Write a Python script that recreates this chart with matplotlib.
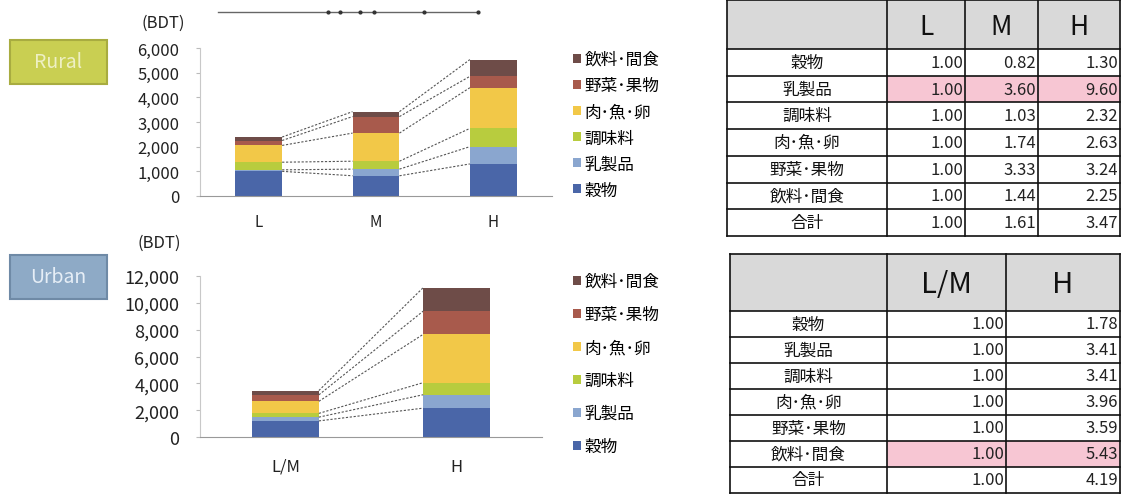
import matplotlib
matplotlib.use('Agg')
import matplotlib.pyplot as plt
from matplotlib.patches import Rectangle
from matplotlib.ticker import FuncFormatter
import numpy as np

plt.rcParams['font.family'] = ['Noto Sans CJK JP', 'DejaVu Sans']

# data
categories = ['穀物', '乳製品', '調味料', '肉･魚･卵', '野菜･果物', '飲料･間食']
colors = ['#4a66a8', '#8aa6cf', '#b8cc3e', '#f2c848', '#a85a4c', '#6e4c48']

rural_groups = ['L', 'M', 'H']
rural_values = {
    '穀物':     [1000, 820, 1300],
    '乳製品':   [60, 270, 700],
    '調味料':   [310, 320, 740],
    '肉･魚･卵': [680, 1140, 1650],
    '野菜･果物': [200, 670, 460],
    '飲料･間食': [140, 200, 680],
}

urban_groups = ['L/M', 'H']
urban_values = {
    '穀物':     [1200, 2150],
    '乳製品':   [280, 1000],
    '調味料':   [280, 900],
    '肉･魚･卵': [900, 3600],
    '野菜･果物': [480, 1730],
    '飲料･間食': [320, 1750],
}

table_rows = ['穀物', '乳製品', '調味料', '肉･魚･卵', '野菜･果物', '飲料･間食', '合計']
rural_ratio_L = [1.00, 1.00, 1.00, 1.00, 1.00, 1.00, 1.00]
rural_ratio_M = [0.82, 3.60, 1.03, 1.74, 3.33, 1.44, 1.61]
rural_ratio_H = [1.30, 9.60, 2.32, 2.63, 3.24, 2.25, 3.47]
urban_ratio_LM = [1.00, 1.00, 1.00, 1.00, 1.00, 1.00, 1.00]
urban_ratio_H = [1.78, 3.41, 3.41, 3.96, 3.59, 5.43, 4.19]

W, H = 1123, 502
fig = plt.figure(figsize=(W / 100, H / 100), dpi=100)


def px_axes(x0, y0, x1, y1, **kw):
    return fig.add_axes([x0 / W, 1 - y1 / H, (x1 - x0) / W, (y1 - y0) / H], **kw)


def stacked_chart(ax, groups, values, ymax, step, width, ytick_fs, xtick_fs, xpad):
    x = np.arange(len(groups))
    bottom = np.zeros(len(groups))
    tops = []
    for cat, col in zip(categories, colors):
        v = np.array(values[cat], dtype=float)
        ax.bar(x, v, width, bottom=bottom, color=col, edgecolor='none', label=cat)
        bottom = bottom + v
        tops.append(bottom.copy())
    # dashed connectors between segment tops
    for t in tops:
        for i in range(len(groups) - 1):
            ax.plot([x[i] + width / 2, x[i + 1] - width / 2], [t[i], t[i + 1]],
                    color='#555555', lw=0.8, ls=(0, (2, 1.5)))
    ax.set_xlim(-0.5, len(groups) - 0.5)
    ax.set_ylim(0, ymax)
    ax.set_yticks(np.arange(0, ymax + 1, step))
    ax.yaxis.set_major_formatter(FuncFormatter(lambda v, p: f'{int(v):,}'))
    ax.set_xticks(x)
    ax.set_xticklabels(groups)
    ax.tick_params(axis='y', labelsize=ytick_fs, colors='#bbbbbb', labelcolor='#222222',
                   length=3, pad=12)
    ax.tick_params(axis='x', labelsize=xtick_fs, length=0, pad=xpad, labelcolor='#222222')
    for s in ['top', 'right']:
        ax.spines[s].set_visible(False)
    ax.spines['left'].set_color('#c8c8c8')
    ax.spines['bottom'].set_color('#999999')
    ax.patch.set_alpha(0)
    return ax


ax1 = px_axes(200, 49, 552, 197)
stacked_chart(ax1, rural_groups, rural_values, 6000, 1000, 0.4, 12, 11, 12)
h, l = ax1.get_legend_handles_labels()
fig.legend(h[::-1], l[::-1], loc='upper left', bbox_to_anchor=(558 / W, 1 - 37 / H),
           frameon=False, fontsize=12, handlelength=0.45, handleheight=0.45,
           handletextpad=0.25, labelspacing=0.55)

ax2 = px_axes(200, 277, 542, 438)
stacked_chart(ax2, urban_groups, urban_values, 12000, 2000, 0.39, 13, 12, 15)
h, l = ax2.get_legend_handles_labels()
fig.legend(h[::-1], l[::-1], loc='upper left', bbox_to_anchor=(558 / W, 1 - 259 / H),
           frameon=False, fontsize=12, handlelength=0.45, handleheight=0.45,
           handletextpad=0.25, labelspacing=0.96)

# overlay in pixel coordinates for badges, labels and tables
pax = fig.add_axes([0, 0, 1, 1])
pax.set_xlim(0, W)
pax.set_ylim(H, 0)
pax.set_axis_off()
pax.patch.set_alpha(0)

pax.text(163, 23, '(BDT)', ha='center', va='center', fontsize=12, color='#222222')
pax.text(159, 243, '(BDT)', ha='center', va='center', fontsize=12, color='#222222')

pax.add_patch(Rectangle((10, 41), 97, 44, facecolor='#c9cf52', edgecolor='#a8ac40', lw=1.5))
pax.text(58, 63, 'Rural', ha='center', va='center', fontsize=14, color='#eef0c4')
pax.add_patch(Rectangle((10, 256), 97, 44, facecolor='#8eaac6', edgecolor='#6f8aa6', lw=1.5))
pax.text(58, 278, 'Urban', ha='center', va='center', fontsize=14, color='#e6eef6')

pax.plot([218, 478], [12.7, 12.7], color='#666666', lw=1)
pax.plot([328, 340, 360, 374, 424, 478], [12.7] * 6, 'o', ms=2, color='#333333')


def draw_table(edges, top, head_h, row_h, headers, columns, highlight, head_fs):
    n = len(table_rows)
    bottom = top + head_h + n * row_h
    pax.add_patch(Rectangle((edges[0], top), edges[-1] - edges[0], head_h,
                            facecolor='#d9d9d9', edgecolor='none'))
    for c in range(1, len(edges) - 1):
        y0 = top + head_h + highlight * row_h
        pax.add_patch(Rectangle((edges[c], y0), edges[c + 1] - edges[c], row_h,
                                facecolor='#f7c6d3', edgecolor='none'))
    for c, lab in enumerate(headers):
        pax.text((edges[c + 1] + edges[c + 2]) / 2, top + head_h / 2 + 2, lab,
                 ha='center', va='center', fontsize=head_fs, color='#111111')
    for r, name in enumerate(table_rows):
        yc = top + head_h + (r + 0.5) * row_h
        pax.text((edges[0] + edges[1]) / 2, yc, name, ha='center', va='center',
                 fontsize=12, color='#111111')
        for c, col in enumerate(columns):
            pax.text(edges[c + 2] - 2, yc, f'{col[r]:.2f}', ha='right', va='center',
                     fontsize=12, color='#222222')
    for x in edges:
        pax.plot([x, x], [top, bottom], color='#111111', lw=1.2)
    for r in range(n + 1):
        y = top + head_h + r * row_h
        pax.plot([edges[0], edges[-1]], [y, y], color='#111111', lw=1.2)
    pax.plot([edges[0], edges[-1]], [top, top], color='#111111', lw=1.2)


draw_table([727, 887, 965, 1038, 1120], 1, 49, 26.7, ['L', 'M', 'H'],
           [rural_ratio_L, rural_ratio_M, rural_ratio_H], 1, 19)
draw_table([730, 887, 1006, 1120], 255, 57, 26, ['L/M', 'H'],
           [urban_ratio_LM, urban_ratio_H], 5, 21)

fig.savefig('out.png', dpi=100)
